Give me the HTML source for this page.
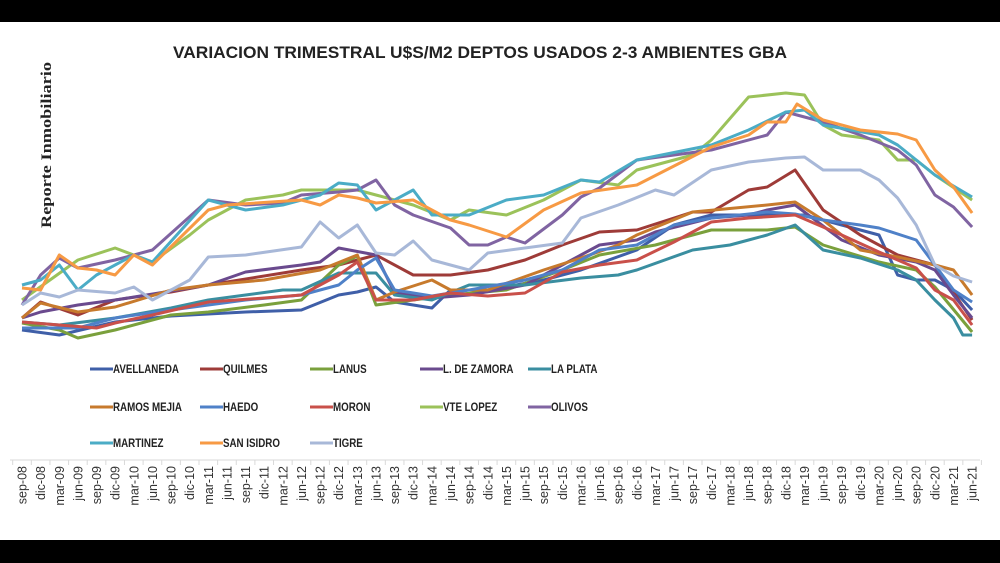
<!DOCTYPE html>
<html><head><meta charset="utf-8"><style>
html,body{margin:0;padding:0;background:#000;}
svg{display:block}
</style></head><body>
<svg id="s" width="1000" height="563" xmlns="http://www.w3.org/2000/svg">
<rect x="0" y="0" width="1000" height="563" fill="#000"/>
<rect x="0" y="22" width="1000" height="518" fill="#fff"/>
<text x="480" y="58" text-anchor="middle" font-family="Liberation Sans, sans-serif" font-weight="bold" font-size="16.5" fill="#222" textLength="614" lengthAdjust="spacingAndGlyphs">VARIACION TRIMESTRAL U$S/M2 DEPTOS USADOS 2-3 AMBIENTES GBA</text>
<text transform="translate(51,228) rotate(-90)" font-family="Liberation Serif, serif" font-weight="bold" font-size="15" fill="#222" textLength="166" lengthAdjust="spacingAndGlyphs">Reporte Inmobiliario</text>
<line x1="10" y1="460" x2="980" y2="460" stroke="#d9d9d9" stroke-width="1"/>
<g id="lines" fill="none" stroke-width="3" stroke-linejoin="round"></g>
<g id="ticks"></g>
<g id="legend" font-family="Liberation Sans, sans-serif" font-weight="bold" font-size="11.5" fill="#222"></g>
</svg>
<script>
var NS="http://www.w3.org/2000/svg";
function X(i){return 22+i*18.63;}
var S=[
["AVELLANEDA","#3f5fa8",[[0,330],[2,335],[5,322],[8,316],[12,312],[15,310],[17,295],[18,292],[19,287],[20,302],[22,308],[23,290],[25,290],[28,280],[30,270],[33,250],[35,225],[37,215],[40,215],[42,215],[44,225],[46,235],[47,275],[48,280],[49,280],[50,290],[51,310]]],
["QUILMES","#9e3b38",[[0,318],[1,302],[3,315],[5,300],[8,292],[10,285],[15,270],[17,265],[19,255],[21,275],[23,275],[25,270],[27,260],[29,245],[31,232],[33,230],[36,212],[37,212],[39,190],[40,187],[41.5,170],[43,210],[45,235],[47,255],[49,265],[51,320]]],
["LANUS","#7aa03c",[[0,323],[2,330],[3,338],[5,330],[8,315],[10,312],[13,305],[15,300],[17,265],[18,256],[19,305],[21,300],[23,295],[26,290],[29,270],[31,255],[34,245],[37,230],[40,230],[41.5,227],[43,245],[46,262],[48,270],[49,287],[51,332]]],
["L. DE ZAMORA","#6a4a8e",[[0,318],[1,312],[3,305],[5,300],[10,285],[12,272],[15,265],[16,262],[17,248],[19,255],[20,293],[22,298],[24,295],[27,285],[30,255],[31,245],[33,240],[34,232],[37,218],[39,215],[40,210],[41.5,205],[44,240],[46,255],[48,262],[49,270],[50,295],[51,318]]],
["LA PLATA","#3a8ea0",[[0,322],[2,325],[5,318],[8,308],[10,300],[12,295],[14,290],[15,290],[17,273],[19,273],[20,295],[22,300],[24,285],[27,285],[30,278],[32,275],[33,270],[36,250],[38,245],[39,240],[40,235],[41.5,225],[43,250],[45,258],[47,270],[48,280],[49,300],[50,318],[50.5,335],[51,335]]],
["RAMOS MEJIA","#c77a2d",[[0,318],[1,303],[3,312],[5,307],[8,290],[10,285],[13,280],[16,270],[18,255],[19,300],[20,292],[22,280],[23,290],[25,290],[28,270],[30,258],[32,245],[33,235],[36,212],[40,205],[41.5,202],[43,220],[45,250],[47,257],[49,265],[50,270],[51,295]]],
["HAEDO","#4f81c8",[[0,328],[3,328],[5,318],[8,310],[12,300],[15,295],[17,285],[18,270],[19,258],[20,290],[22,296],[24,290],[27,280],[29,270],[31,250],[33,245],[35,225],[37,218],[40,212],[41.5,214],[43,220],[45,225],[46,228],[48,240],[49,265],[50,290],[51,302]]],
["MORON","#c9504a",[[0,322],[2,325],[4,328],[5,323],[7,315],[10,302],[13,298],[15,295],[17,275],[18,262],[19,300],[21,300],[23,293],[25,296],[27,293],[29,272],[31,265],[33,260],[35,242],[37,222],[39,218],[41.5,215],[44,235],[46,252],[48,268],[49,290],[50,300],[51,325]]],
["VTE LOPEZ","#9bc25a",[[0,300],[3,260],[5,248],[7,262],[9,235],[10,220],[12,200],[14,195],[15,190],[16,190],[18,190],[19,195],[21,205],[23,220],[24,210],[26,215],[28,200],[30,180],[32,185],[33,170],[36,155],[37,140],[39,97],[41,93],[42,95],[43,125],[44,135],[46,140],[47,160],[48,160],[49,175],[51,200]]],
["OLIVOS","#8064a2",[[0,305],[1,275],[2,258],[3,268],[5,260],[7,250],[10,200],[12,205],[14,203],[15,195],[17,192],[18,190],[19,180],[20,205],[21,215],[23,228],[24,245],[25,245],[26,237],[27,243],[29,215],[30,197],[31,188],[33,160],[37,150],[40,135],[41,112],[43,122],[45,135],[47,150],[48,165],[49,195],[50,207],[51,227]]],
["MARTINEZ","#4bacc6",[[0,285],[1,280],[2,265],[3,290],[4,275],[6,255],[7,262],[10,200],[12,210],[14,205],[16,195],[17,183],[18,185],[19,210],[21,190],[22,215],[24,215],[26,200],[28,195],[30,180],[31,182],[33,160],[37,145],[39,130],[41,112],[42,110],[43,125],[46,135],[47,145],[49,175],[51,197]]],
["SAN ISIDRO","#f79a44",[[0,288],[1,290],[2,255],[3,268],[4,270],[5,275],[6,255],[7,265],[10,210],[11,205],[15,200],[16,205],[17,195],[18,198],[19,203],[21,200],[23,220],[24,225],[26,237],[28,210],[30,193],[33,185],[37,147],[39,135],[40,122],[41,122],[41.6,104],[43,120],[45,130],[47,134],[48,140],[49,170],[50,187],[51,213]]],
["TIGRE","#a8b8d8",[[0,305],[1,293],[2,297],[3,290],[5,293],[6,287],[7,300],[9,280],[10,257],[12,255],[15,247],[16,222],[17,238],[18,225],[19,253],[20,255],[21,241],[22,260],[23,265],[24,270],[25,253],[29,243],[30,218],[32,205],[34,190],[35,195],[37,170],[39,162],[41,158],[42,157],[43,170],[45,170],[46,180],[47,198],[48,225],[49,265],[50,276],[51,282]]]
];
var g=document.getElementById("lines");
S.forEach(function(s){
 var p=s[2].map(function(k){return X(k[0]).toFixed(1)+","+k[1];}).join(" ");
 var pl=document.createElementNS(NS,"polyline");
 pl.setAttribute("points",p);pl.setAttribute("stroke",s[1]);g.appendChild(pl);
});
var lg=document.getElementById("legend");
var cols=[90,200,310,420,528], rows=[369,407,443];
S.forEach(function(s,i){
 var cx=cols[i%5], cy=rows[Math.floor(i/5)];
 var l=document.createElementNS(NS,"line");
 l.setAttribute("x1",cx);l.setAttribute("x2",cx+23);l.setAttribute("y1",cy);l.setAttribute("y2",cy);
 l.setAttribute("stroke",s[1]);l.setAttribute("stroke-width","3");lg.appendChild(l);
 var t=document.createElementNS(NS,"text");
 t.setAttribute("x",cx+23);t.setAttribute("y",cy+4);
 t.setAttribute("transform","translate("+(cx+23)+",0) scale(0.85,1) translate("+(-(cx+23))+",0)");
 t.textContent=s[0];lg.appendChild(t);
});
var tk=document.getElementById("ticks");
var mon=["sep","dic","mar","jun"];
for(var i=0;i<52;i++){
 var m=mon[i%4];
 var y=(m=="sep"||m=="dic")?8+Math.floor(i/4):9+Math.floor((i-2)/4);
 var lab=m+"-"+(y<10?"0"+y:y);
 var l=document.createElementNS(NS,"line");
 var tx=X(i)-9.3;
 l.setAttribute("x1",tx);l.setAttribute("x2",tx);l.setAttribute("y1",460);l.setAttribute("y2",465);
 l.setAttribute("stroke","#d9d9d9");tk.appendChild(l);
 var t=document.createElementNS(NS,"text");
 t.setAttribute("transform","translate("+(X(i)+4.5)+",466) rotate(-90)");
 t.setAttribute("text-anchor","end");t.setAttribute("font-family","Liberation Sans, sans-serif");
 t.setAttribute("font-size","12.5");t.setAttribute("fill","#333");
 t.textContent=lab;tk.appendChild(t);
}
var l2=document.createElementNS(NS,"line");
l2.setAttribute("x1",X(51)+9.3);l2.setAttribute("x2",X(51)+9.3);l2.setAttribute("y1",460);l2.setAttribute("y2",465);l2.setAttribute("stroke","#d9d9d9");tk.appendChild(l2);
</script>
</body></html>
